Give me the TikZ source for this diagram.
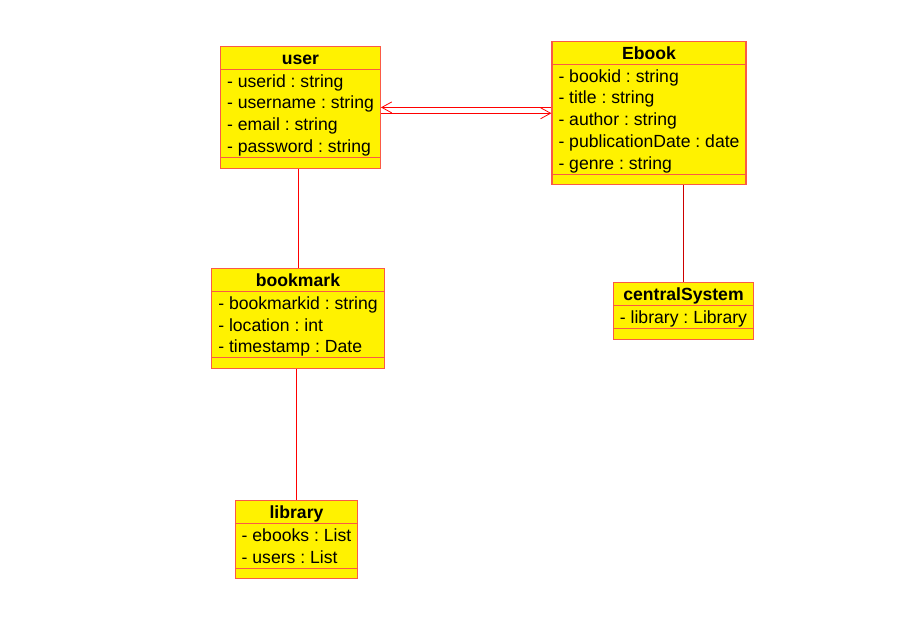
\documentclass[tikz,border=0pt]{standalone}
\usepackage{fontspec}
\setmainfont{Liberation Sans}
\usetikzlibrary{shapes.multipart, arrows.meta}

\definecolor{boxline}{RGB}{250,90,70}
\definecolor{darkline}{RGB}{205,0,0}
\newcommand{\row}{\rule[-4.5pt]{0pt}{21.7pt}}
\frenchspacing

\begin{document}
\begin{tikzpicture}[x=1pt, y=-1pt,
    classbox/.style={rectangle split, rectangle split parts=3, draw=boxline, fill=yellow,
      line width=1.2pt, anchor=north, align=left, rectangle split part align={center,left,left},
      inner xsep=6.5pt, inner ysep=0pt, rectangle split empty part height=9.5pt,
      rectangle split empty part depth=0pt, font=\fontsize{17.6}{21.7}\selectfont},
    assoc/.style={draw=red, line width=0.8pt},
    nav/.style={assoc, -{Straight Barb[length=10pt, width=11pt]}}]
        \useasboundingbox (0,0) rectangle (910,628);
        \node[classbox] (user) at (300.5,46) {\row\textbf{user}
          \nodepart{two}\row- userid : string\\ \row- username : string\\ \row- email : string\\ \row- password : string};
        \node[classbox] (ebook) at (649,41) {\row\textbf{Ebook}
          \nodepart{two}\row- bookid : string\\ \row- title : string\\ \row- author : string\\ \row- publicationDate : date\\ \row- genre : string};
        \node[classbox] (bookmark) at (298,268) {\row\textbf{bookmark}
          \nodepart{two}\row- bookmarkid : string\\ \row- location : int\\ \row- timestamp : Date};
        \node[classbox] (centralSystem) at (683.5,282) {\row\textbf{centralSystem}
          \nodepart{two}\row- library : Library};
        \node[classbox] (library) at (296.5,500) {\row\textbf{library}
          \nodepart{two}\row- ebooks : List\\ \row- users : List};
        \draw[nav] (ebook.west |- user.east) -- (user.east);
        \draw[nav] (user.east |- ebook.west) -- (ebook.west);
        \draw[assoc] (bookmark.north |- user.south) -- (bookmark.north);
        \draw[assoc] (library.north |- bookmark.south) -- (library.north);
        \draw[assoc, draw=darkline] (centralSystem.north |- ebook.south) -- (centralSystem.north);
\end{tikzpicture}
\end{document}
